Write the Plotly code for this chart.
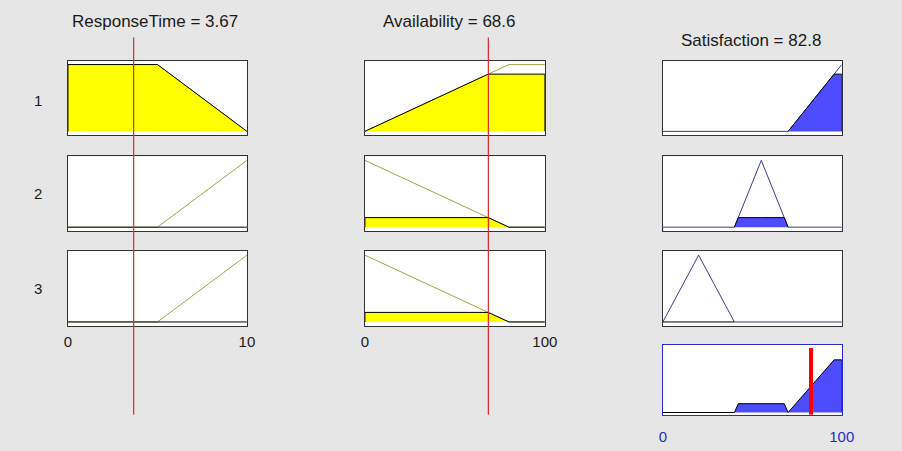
import plotly.graph_objects as go

# ---------------- data ----------------
input_names = ["ResponseTime", "Availability"]
output_name = "Satisfaction"
response_range = [0, 10]
availability_range = [0, 100]
satisfaction_range = [0, 100]

response_input = 3.67
availability_input = 68.6
satisfaction_output = 82.8

# trapezoid membership parameters [a, b, c, d] for rules 1..3
response_mfs = [[0, 0, 5, 10], [5, 10, 10, 10], [5, 10, 10, 10]]
availability_mfs = [[0, 80, 100, 100], [0, 0, 0, 80], [0, 0, 0, 80]]
satisfaction_mfs = [[70, 100, 100, 100], [40, 55, 55, 70], [0, 20, 20, 40]]

# membership degrees / rule strengths
response_degrees = [1.0, 0.0, 0.0]
availability_degrees = [0.857, 0.143, 0.143]
rule_strengths = [0.857, 0.143, 0.0]

rule_labels = ["1", "2", "3"]
response_ticks = [0, 10]
availability_ticks = [0, 100]
satisfaction_ticks = [0, 100]

# ---------------- helpers ----------------
def mf(p, x):
    a, b, c, d = p
    if x < a or x > d:
        return 0.0
    if b <= x <= c:
        return 1.0
    if x < b:
        return (x - a) / (b - a)
    return (d - x) / (d - c)


def mf_line(p, rng):
    lo, hi = rng
    xs = sorted(set([lo, hi] + [v for v in p if lo <= v <= hi]))
    return xs, [mf(p, x) for x in xs]


def clipped(p, h, lo, hi):
    a, b, c, d = p
    cand = [lo, hi, a, b, c, d, a + (b - a) * h, d - (d - c) * h]
    xs = sorted(set(v for v in cand if lo <= v <= hi))
    px = [lo] + xs + [hi]
    py = [0.0] + [min(mf(p, x), h) for x in xs] + [0.0]
    return px, py


# ---------------- layout geometry ----------------
W, H = 902, 451
col_px = [(67, 246), (364, 544), (662, 841)]
row_px = [(60, 135), (156, 231), (251, 326)]
agg_px = (345, 415)

# horizontal correction measured from the rendered page
XS, XO = 0.9814, 3.0
YO = 0.7


def fx_(px):
    return (px - XO) / XS / W


def fy_(py):
    return 1 - (py + YO) / H


def xd(a, b):
    return [fx_(a), fx_(b)]


def yd(t, b):
    return [fy_(b), fy_(t)]


BG = "#e6e6e6"
YELLOW = "#ffff00"
BLUE_FILL = "#4d4dff"
IN_LINE = "#a3a34a"
OUT_LINE = "#3a3a8c"
BORDER = "#333333"
FONT = "Liberation Sans, Arial, sans-serif"

fig = go.Figure()
layout = dict(
    autosize=True, margin=dict(l=0, r=0, t=0, b=0, pad=0),
    paper_bgcolor=BG, plot_bgcolor="white", showlegend=False,
    font=dict(family=FONT, size=15, color="#1a1a1a"),
)

YR = [-0.06, 1.06]
columns = [
    (response_mfs, response_degrees, response_range, response_ticks, "in"),
    (availability_mfs, availability_degrees, availability_range, availability_ticks, "in"),
    (satisfaction_mfs, rule_strengths, satisfaction_range, satisfaction_ticks, "out"),
]


def axname(k):
    return "" if k == 1 else str(k)


for r in range(3):
    for c in range(3):
        k = r * 3 + c + 1
        mfs, degs, rng, ticks, kind = columns[c]
        p = mfs[r]
        h = degs[r]
        xa = "x" + axname(k)
        ya = "y" + axname(k)
        show_ticks = (r == 2 and kind == "in")
        layout["xaxis" + axname(k)] = dict(
            domain=xd(*col_px[c]), range=rng, anchor=ya,
            showgrid=False, zeroline=False, showline=True, mirror=True,
            linecolor=BORDER, linewidth=1, ticks="",
            showticklabels=show_ticks, tickvals=ticks,
            ticktext=[str(t) for t in ticks], ticklabelstandoff=2,
            tickfont=dict(size=15, color="#1a1a1a"), fixedrange=True,
        )
        layout["yaxis" + axname(k)] = dict(
            domain=yd(*row_px[r]), range=YR, anchor=xa,
            showgrid=False, zeroline=False, showline=True, mirror=True,
            linecolor=BORDER, linewidth=1, ticks="", showticklabels=False,
            fixedrange=True,
        )
        lx, ly = mf_line(p, rng)
        line_col = IN_LINE if kind == "in" else OUT_LINE
        fill_col = YELLOW if kind == "in" else BLUE_FILL
        fig.add_trace(go.Scatter(x=lx, y=ly, mode="lines", xaxis=xa, yaxis=ya,
                                 line=dict(color=line_col, width=1), hoverinfo="skip"))
        if kind == "in":
            fx, fy = clipped(p, h, rng[0], rng[1])
        else:
            fx, fy = clipped(p, h, max(rng[0], p[0]), min(rng[1], p[3]))
        fig.add_trace(go.Scatter(x=fx, y=fy, mode="lines", fill="toself",
                                 fillcolor=fill_col, xaxis=xa, yaxis=ya,
                                 line=dict(color="black", width=1), hoverinfo="skip"))

# aggregated output panel
AGG_BORDER = "#2a2ac8"
layout["xaxis10"] = dict(
    domain=xd(*col_px[2]), range=satisfaction_range, anchor="y10",
    showgrid=False, zeroline=False, showline=True, mirror=True,
    linecolor=AGG_BORDER, linewidth=1, ticks="", showticklabels=True,
    tickvals=satisfaction_ticks, ticktext=[str(t) for t in satisfaction_ticks],
    ticklabelstandoff=8, tickfont=dict(size=15, color="#2a2ac8"), fixedrange=True,
)
AYR = [-0.037, 1.1]
layout["yaxis10"] = dict(
    domain=yd(*agg_px), range=AYR, anchor="x10",
    showgrid=False, zeroline=False, showline=True, mirror=True,
    linecolor=AGG_BORDER, linewidth=1, ticks="", showticklabels=False,
    fixedrange=True,
)
# aggregate = max of clipped outputs (evaluated at all breakpoints)
lo, hi = satisfaction_range
bps = set([lo, hi])
for p, h in zip(satisfaction_mfs, rule_strengths):
    if h > 0:
        a, b, c, d = p
        bps.update([a, b, c, d, a + (b - a) * h, d - (d - c) * h])
bps = sorted(v for v in bps if lo <= v <= hi)
agg_y = [max(min(mf(p, x), h) for p, h in zip(satisfaction_mfs, rule_strengths)) for x in bps]
fig.add_trace(go.Scatter(x=[lo] + bps + [hi], y=[0] + agg_y + [0], mode="lines",
                         fill="toself", fillcolor=BLUE_FILL, xaxis="x10", yaxis="y10",
                         line=dict(color="black", width=1), hoverinfo="skip"))

shapes = []
# input red index lines
for xa, val in (("x7", response_input), ("x8", availability_input)):
    shapes.append(dict(type="line", xref=xa, yref="paper", x0=val, x1=val,
                       y0=fy_(415), y1=fy_(37),
                       line=dict(color="#d82a2a", width=1.2), layer="above"))
# output red line
shapes.append(dict(type="line", xref="x10", yref="y10", x0=satisfaction_output,
                   x1=satisfaction_output, y0=AYR[0], y1=1.05,
                   line=dict(color="#ff0000", width=4), layer="above"))
layout["shapes"] = shapes

annotations = []
titles = [
    (f"{input_names[0]} = {response_input:g}", 154, 21),
    (f"{input_names[1]} = {availability_input:g}", 448, 21),
    (f"{output_name} = {satisfaction_output:g}", 750, 40),
]
for txt, x, y in titles:
    annotations.append(dict(text=txt, x=fx_(x), y=fy_(y), xref="paper", yref="paper",
                            showarrow=False, xanchor="center", yanchor="middle",
                            font=dict(size=17, color="#1a1a1a")))
for lab, y in zip(rule_labels, [100, 193, 288]):
    annotations.append(dict(text=lab, x=fx_(37), y=fy_(y), xref="paper", yref="paper",
                            showarrow=False, xanchor="center", yanchor="middle",
                            font=dict(size=15, color="#1a1a1a")))
layout["annotations"] = annotations

fig.update_layout(**layout)
css_fix = (
    "document.documentElement.style.overflow='hidden';"
    "document.documentElement.style.margin='0';"
    "document.body.style.margin='0';"
    "document.body.style.padding='0';"
    "document.body.style.overflow='hidden';"
    "document.body.style.background='#e6e6e6';"
)
fig.write_html("out.html", default_width="100vw", default_height="100vh",
               config={"displayModeBar": False, "responsive": True},
               post_script=css_fix)
